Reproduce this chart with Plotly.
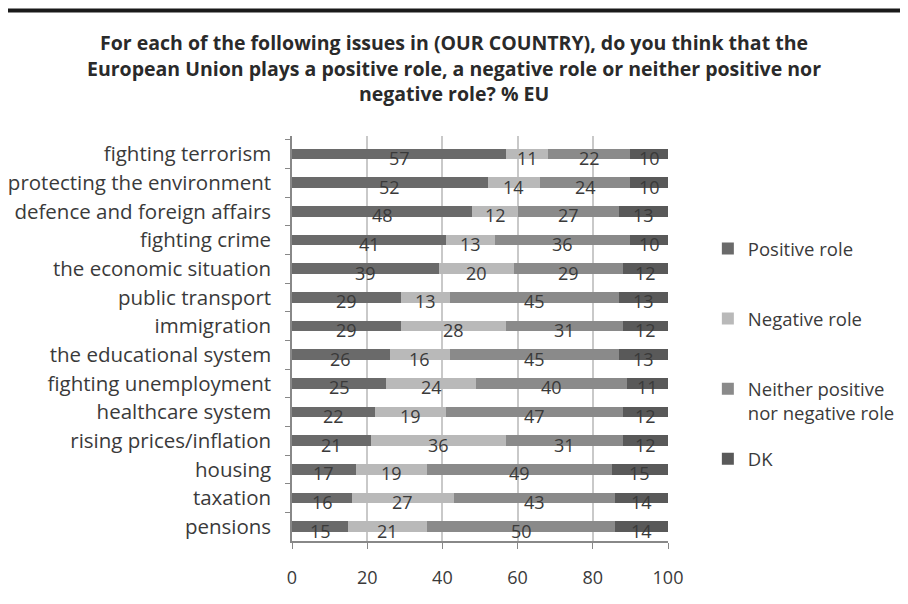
import plotly.graph_objects as go

categories = ["fighting terrorism", "protecting the environment", "defence and foreign affairs",
              "fighting crime", "the economic situation", "public transport", "immigration",
              "the educational system", "fighting unemployment", "healthcare system",
              "rising prices/inflation", "housing", "taxation", "pensions"]
positive = [57, 52, 48, 41, 39, 29, 29, 26, 25, 22, 21, 17, 16, 15]
negative = [11, 14, 12, 13, 20, 13, 28, 16, 24, 19, 36, 19, 27, 21]
neither = [22, 24, 27, 36, 29, 45, 31, 45, 40, 47, 31, 49, 43, 50]
dk = [10, 10, 13, 10, 12, 13, 12, 13, 11, 12, 12, 15, 14, 14]
series_names = ["Positive role<br> ", "Negative role<br> ", "Neither positive<br>nor negative role", "DK<br> "]
x_ticks = [0, 20, 40, 60, 80, 100]

colors = ["#6a6a6a", "#b9b9b9", "#8a8a8a", "#595959"]
FONT = "Open Sans"
TXT = "#3a3a3a"

fig = go.Figure()
all_series = [positive, negative, neither, dk]
for i, (name, vals) in enumerate(zip(series_names, all_series)):
    fig.add_trace(go.Bar(
        y=categories, x=vals, name=name, orientation="h",
        marker=dict(color=colors[i], line=dict(width=0)),
        legendgroup=f"g{i}",
    ))

# data labels, centred in each segment, slightly below bar centre
annotations = []
for ci, cat in enumerate(categories):
    cum = 0
    for vals in all_series:
        v = vals[ci]
        annotations.append(dict(
            x=cum + v / 2, y=cat, xref="x", yref="y", text=str(v),
            showarrow=False, yshift=-4,
            font=dict(family=FONT, size=18, color=TXT),
        ))
        cum += v

fig.update_layout(
    width=900, height=596,
    barmode="stack", bargap=0.62,
    paper_bgcolor="white", plot_bgcolor="white",
    margin=dict(l=284, r=240, t=128, b=63, autoexpand=False),
    title=dict(
        text="For each of the following issues in (OUR COUNTRY), do you think that the<br>"
             "European Union plays a positive role, a negative role or neither positive nor<br>"
             "negative role? % EU",
        x=0.4956, xanchor="center", y=0.929, yanchor="top",
        font=dict(family=FONT, size=19.5, color="#2a2a2a", weight="bold"),
    ),
    font=dict(family=FONT, size=17, color=TXT),
    legend=dict(
        x=1.106, xanchor="left", y=0.768, yanchor="top",
        traceorder="grouped", tracegroupgap=19, valign="top",
        font=dict(family=FONT, size=18.5, color=TXT),
        itemwidth=30,
    ),
    annotations=annotations,
    shapes=[dict(type="line", xref="paper", yref="paper", x0=-0.8, x1=1.7,
                 y0=1.31, y1=1.31, line=dict(color="#1a1a1a", width=4))],
)
fig.update_xaxes(
    range=[0, 100], tickvals=x_ticks, ticks="outside", ticklen=6, tickcolor="#888",
    showgrid=True, gridcolor="#c9c9c9", gridwidth=2,
    showline=True, linecolor="#888", linewidth=1.5, ticklabelstandoff=14,
    zeroline=False, tickfont=dict(family=FONT, size=18, color=TXT),
)
fig.update_yaxes(
    categoryorder="array", categoryarray=categories, autorange="reversed",
    ticks="outside", tickson="boundaries", ticklen=5, tickcolor="#888",
    showline=True, linecolor="#888", linewidth=1.5, ticklabelstandoff=15,
    tickfont=dict(family=FONT, size=20.5, color=TXT),
)

fig.write_html("out.html")
